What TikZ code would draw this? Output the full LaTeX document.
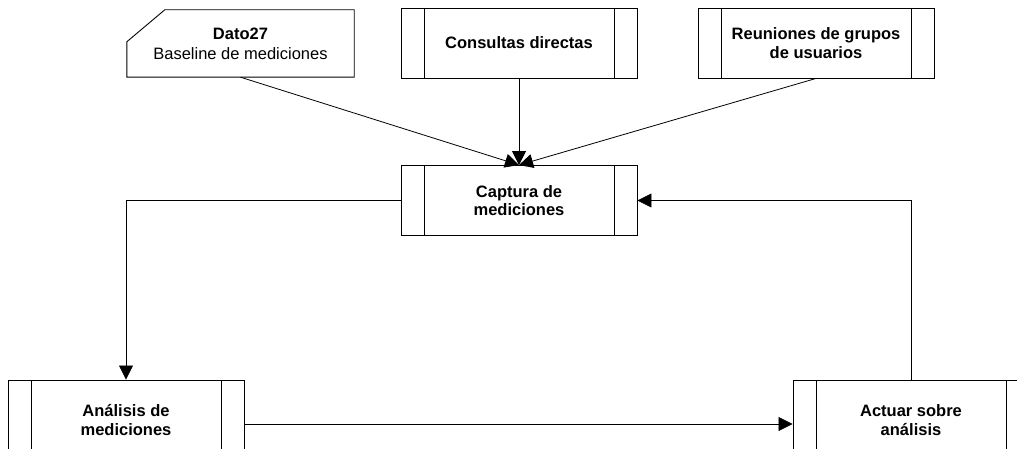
\documentclass[tikz,border=0pt]{standalone}
\usepackage{fontspec}
\setmainfont{Liberation Sans}
\usetikzlibrary{arrows.meta}

\begin{document}
\begin{tikzpicture}[x=1pt, y=-1pt,
    every node/.style={font=\fontsize{16.5pt}{20pt}\selectfont},
    procbox/.style={draw, line width=0.9pt, minimum width=236pt, minimum height=70pt, inner sep=0pt, align=center,
        font=\fontsize{16.5pt}{18.5pt}\selectfont\bfseries,
        path picture={\draw[line width=0.9pt] ([xshift=23pt]path picture bounding box.north west) -- ([xshift=23pt]path picture bounding box.south west)
            ([xshift=-23pt]path picture bounding box.north east) -- ([xshift=-23pt]path picture bounding box.south east);}},
    flow/.style={line width=0.8pt, -{Triangle[length=14pt,width=14pt]}}]
    \useasboundingbox[fill=white] (0,0) rectangle (1017,449);
    \node[minimum width=227pt, minimum height=67pt, inner sep=0pt, align=center] (dato) at (240.5,43.5) {\textbf{Dato27}\\Baseline de mediciones};
    \draw[line width=0.9pt] ([yshift=-32pt]dato.north west) -- ([xshift=38pt]dato.north west) -- (dato.north east) -- (dato.south east) -- (dato.south west) -- cycle;
    \node[procbox] (cons) at (519,43) {Consultas directas};
    \node[procbox] (reun) at (816,43) {Reuniones de grupos\\de usuarios};
    \node[procbox] (capt) at (519,200.5) {Captura de\\mediciones};
    \node[procbox, minimum height=80pt] (anal) at (126,420) {An\'alisis de\\mediciones};
    \node[procbox, minimum height=80pt] (actu) at (911,420) {Actuar sobre\\an\'alisis};
    \draw[flow] (dato.south) -- (capt.north);
    \draw[flow] (cons.south) -- (capt.north);
    \draw[flow] (reun.south) -- (capt.north);
    \draw[flow] (capt.west) -| (anal.north);
    \draw[flow] ([yshift=-4pt]anal.east) -- ([yshift=-4pt]actu.west);
    \draw[flow] (actu.north) |- (capt.east);
\end{tikzpicture}
\end{document}
